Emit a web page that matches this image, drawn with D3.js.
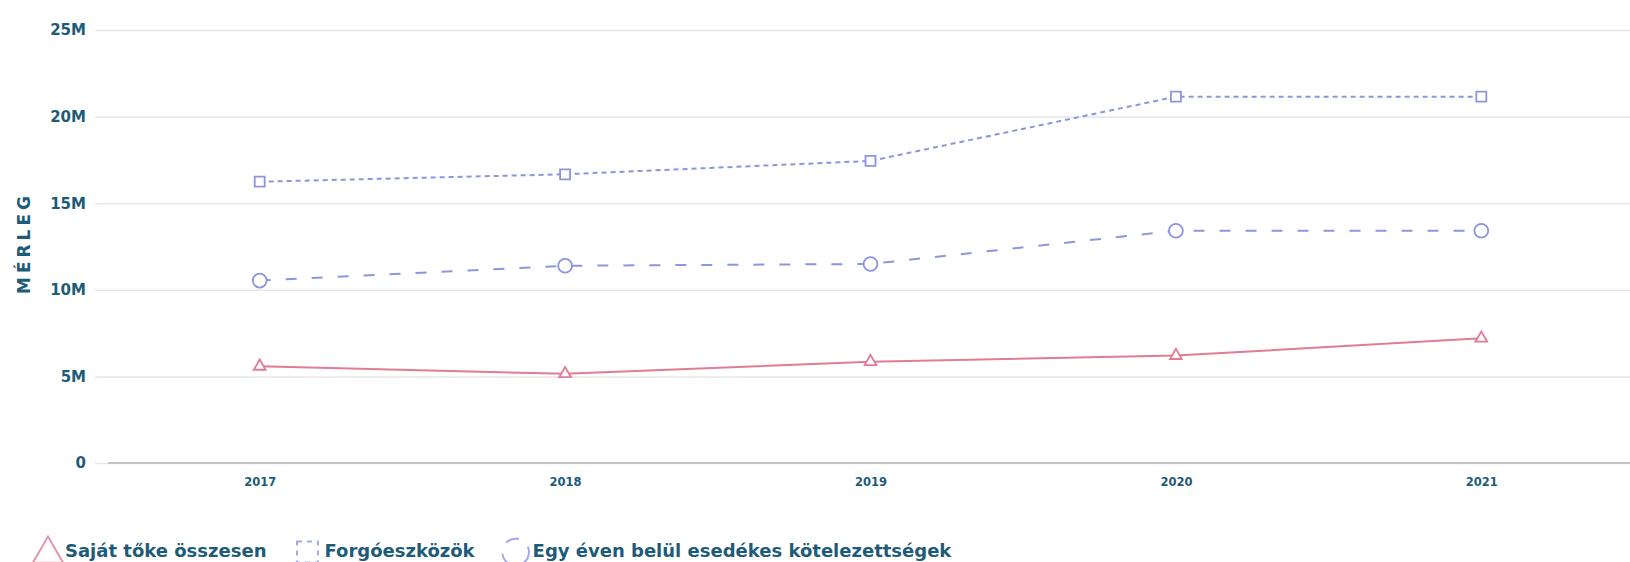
<!DOCTYPE html>
<html>
<head>
<meta charset="utf-8">
<script src="https://cdn.jsdelivr.net/npm/d3@7"></script>
<style>
  body { margin: 0; background: #fff; }
  svg { display: block; font-family: "DejaVu Sans", sans-serif; }
</style>
</head>
<body>
<svg id="chart"></svg>
<script>
// chart data
const years = ['2017', '2018', '2019', '2020', '2021'];
const sajatToke = [5.58e6, 5.15e6, 5.85e6, 6.2e6, 7.2e6];
const forgoeszkozok = [16.24e6, 16.67e6, 17.44e6, 21.15e6, 21.15e6];
const egyEvenBelul = [10.53e6, 11.39e6, 11.49e6, 13.41e6, 13.41e6];
const yTicks = [0, 5e6, 10e6, 15e6, 20e6, 25e6];
const seriesNames = ['Saját tőke összesen', 'Forgóeszközök', 'Egy éven belül esedékes kötelezettségek'];

const W = 1630, H = 562;
const font = '"DejaVu Sans", sans-serif';
const textColor = '#1d5b79';
const pink = '#e07d95';
const blue = '#8d95dd';

const svg = d3.select('#chart').attr('width', W).attr('height', H);

const x = d3.scalePoint().domain(years).range([107, 1634]).padding(0.5);
const y = d3.scaleLinear().domain([0, 25e6]).range([463, 30]);

// grid + y axis
const yAxis = d3.axisLeft(y)
  .tickValues(yTicks)
  .tickSize(-(W - 95))
  .tickPadding(9)
  .tickFormat(d => d === 0 ? '0' : d3.format('~s')(d));

svg.append('g')
  .attr('transform', 'translate(95,0)')
  .call(yAxis)
  .attr('font-family', font)
  .call(g => g.select('.domain').remove())
  .call(g => g.selectAll('.tick line').attr('stroke', '#e6e6e6').attr('stroke-width', 1.5))
  .call(g => g.selectAll('.tick text')
    .attr('fill', textColor).attr('font-size', 15).attr('font-weight', 'bold'));

// x axis
svg.append('g')
  .attr('transform', 'translate(0,463)')
  .call(d3.axisBottom(x).tickSize(0).tickPadding(15))
  .attr('font-family', font)
  .call(g => g.select('.domain').attr('stroke', '#c4c4c4').attr('stroke-width', 2)
    .attr('d', `M108,0H${W}`))
  .call(g => g.selectAll('.tick text')
    .attr('fill', textColor).attr('font-size', 11.5).attr('font-weight', 'bold'));

// y axis title
svg.append('text')
  .attr('transform', 'translate(30,243) rotate(-90)')
  .attr('text-anchor', 'middle')
  .attr('fill', textColor)
  .attr('font-size', 17)
  .attr('font-weight', 'bold')
  .attr('letter-spacing', 4)
  .text('MÉRLEG');

const line = d3.line().x((d, i) => x(years[i])).y(d => y(d));

const series = [
  { name: seriesNames[0], values: sajatToke, color: pink, dash: null, symbol: d3.symbolTriangle, size: 60 },
  { name: seriesNames[1], values: forgoeszkozok, color: blue, dash: '5,4', symbol: d3.symbolSquare, size: 100 },
  { name: seriesNames[2], values: egyEvenBelul, color: blue, dash: '11,15', symbol: d3.symbolCircle, size: 150 }
];

series.forEach(s => {
  svg.append('path')
    .datum(s.values)
    .attr('d', line)
    .attr('fill', 'none')
    .attr('stroke', s.color)
    .attr('stroke-width', 2)
    .attr('stroke-dasharray', s.dash);

  svg.selectAll(null)
    .data(s.values)
    .join('path')
    .attr('transform', (d, i) => `translate(${x(years[i])},${y(d)})`)
    .attr('d', d3.symbol(s.symbol, s.size))
    .attr('fill', '#fff')
    .attr('stroke', s.color)
    .attr('stroke-width', 1.8);
});

// legend
const legend = svg.append('g').attr('transform', 'translate(36,551)');
let lx = 0;
series.forEach((s, i) => {
  const g = legend.append('g').attr('transform', `translate(${lx},0)`);
  const sym = g.append('path')
    .attr('transform', `translate(12,${i === 0 ? 3 : 1})`)
    .attr('d', d3.symbol(s.symbol, i === 0 ? 400 : (i === 1 ? 440 : 560)))
    .attr('fill', 'none')
    .attr('stroke', s.color)
    .attr('stroke-width', 2)
    .attr('opacity', 0.8);
  if (i === 1) sym.attr('stroke-dasharray', '5,5');
  if (i === 2) sym.attr('stroke-dasharray', '14,12');
  const t = g.append('text')
    .attr('x', 29)
    .attr('y', 6)
    .attr('fill', textColor)
    .attr('font-size', 18)
    .attr('font-weight', 'bold')
    .text(s.name);
  lx += 29 + t.node().getComputedTextLength() + 29;
});
</script>
</body>
</html>
